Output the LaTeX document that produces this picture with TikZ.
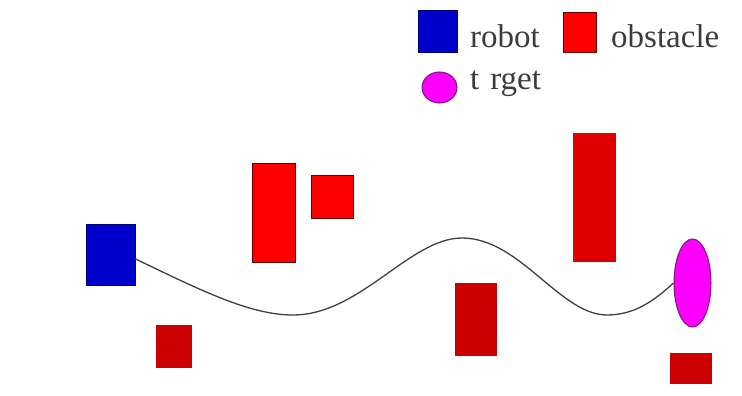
\documentclass[tikz,border=0pt]{standalone}
\usepackage{fontspec}
\setmainfont{Liberation Serif}
\usetikzlibrary{shapes.geometric}
\definecolor{robotblue}{HTML}{0000CC}
\definecolor{robotedge}{HTML}{00007A}
\definecolor{brightred}{HTML}{FF0000}
\definecolor{rededge}{HTML}{600000}
\definecolor{midred}{HTML}{E00000}
\definecolor{darkred}{HTML}{CC0000}
\definecolor{tgtfill}{HTML}{FF00FF}
\definecolor{tgtedge}{HTML}{7A147A}
\definecolor{txtgray}{HTML}{3C3C3C}
\tikzset{
  box/.style={rectangle, inner sep=0pt, minimum width=#1},
  robotbox/.style={draw=robotedge, fill=robotblue, line width=0.8pt},
  obsA/.style={draw=rededge, fill=brightred, line width=0.8pt},
  obsB/.style={fill=midred},
  obsC/.style={fill=darkred},
  tgt/.style={ellipse, inner sep=0pt, draw=tgtedge, fill=tgtfill, line width=1pt},
  legtext/.style={anchor=base west, inner sep=0pt, text=txtgray, font=\fontsize{33}{36}\selectfont},
  path/.style={draw=black!75, line width=1.3pt}
}
\begin{document}
\begin{tikzpicture}[x=1pt,y=-1pt]
\useasboundingbox (0,0) rectangle (742,396);
% legend
\node[box=39pt, minimum height=42pt, robotbox] (legrobot) at (437.5,31) {};
\node[legtext] (lblrobot) at (470,48) {robot};
\node[box=33pt, minimum height=40pt, obsA] (legobs) at (579.5,32) {};
\node[legtext] (lblobs) at (611,48) {obstacle};
\node[tgt, minimum width=35pt, minimum height=31pt] (legtgt) at (439.5,87.5) {};
\node[legtext] (lbltgt) at (470,90) {t\hspace{0.33em}rget};
% scene
\node[box=49pt, minimum height=61pt, robotbox] (robot) at (110.5,254.5) {};
\node[box=43pt, minimum height=99pt, obsA] (obs1) at (273.5,212.5) {};
\node[box=42pt, minimum height=43pt, obsA] (obs2) at (332,196.5) {};
\node[box=36pt, minimum height=43pt, obsC] (obs3) at (174,346.5) {};
\node[box=42pt, minimum height=73pt, obsC] (obs4) at (476,319.5) {};
\node[box=43pt, minimum height=129pt, obsB] (obs5) at (594.5,197.5) {};
\node[box=42pt, minimum height=31pt, obsC] (obs6) at (691,368.5) {};
\node[tgt, minimum width=37pt, minimum height=88pt] (target) at (692.5,283) {};
% path
\coordinate (m1) at (293,315);
\coordinate (p1) at (462,238);
\coordinate (m2) at (607,315);
\path[path] (robot.-10) .. controls (200,290) and (250,315) .. (m1)
  .. controls (360,315) and (410,238) .. (p1)
  .. controls (520,238) and (560,315) .. (m2)
  .. controls (635,315) and (655,300) .. (target.west);
\end{tikzpicture}
\end{document}
